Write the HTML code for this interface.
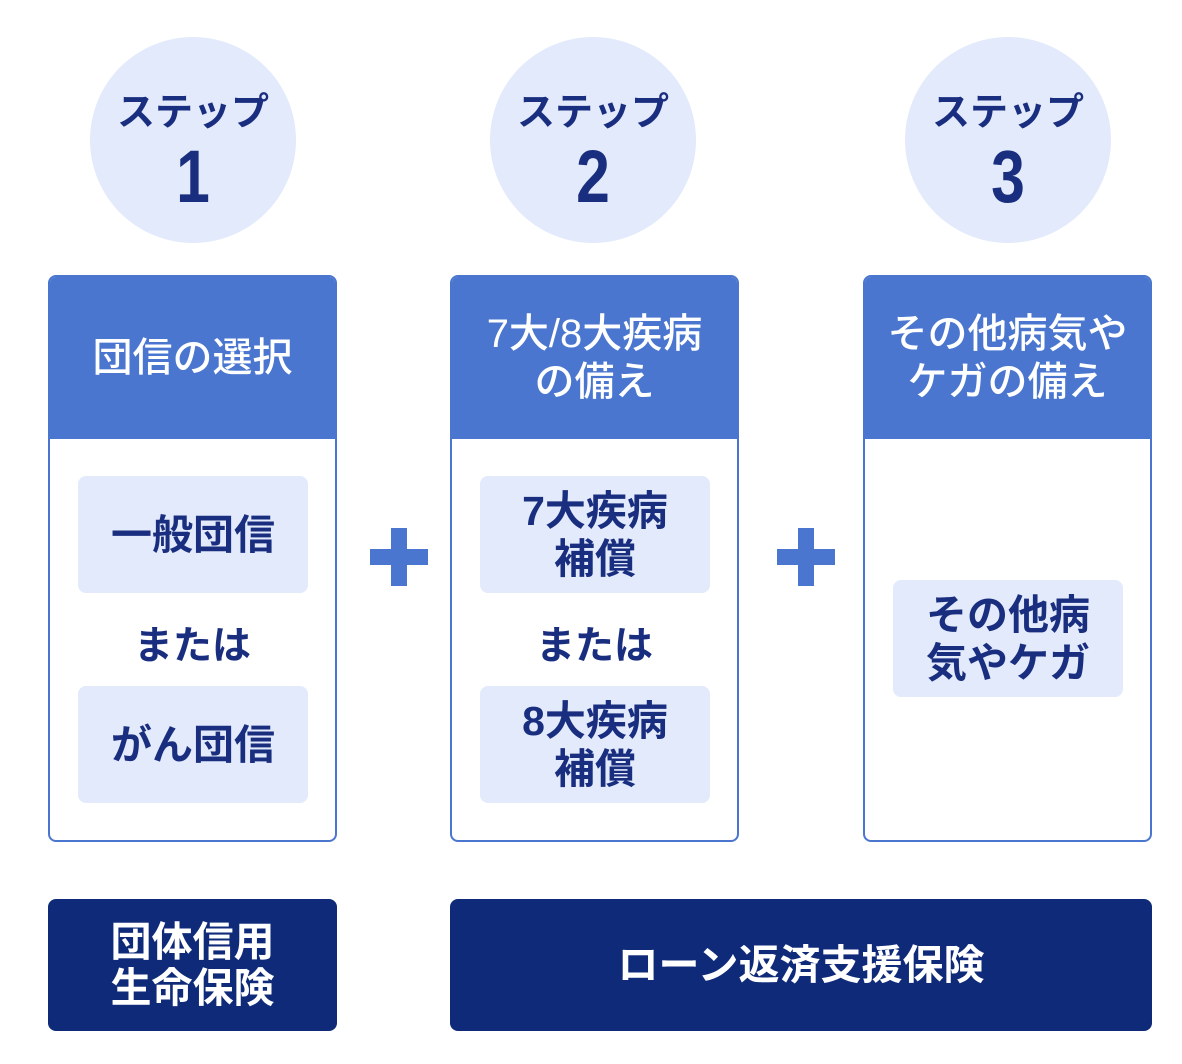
<!DOCTYPE html>
<html><head><meta charset="utf-8"><style>
*{margin:0;padding:0;box-sizing:border-box}
body{width:1182px;height:1064px;background:#fff;position:relative;overflow:hidden;font-family:"Liberation Sans","Noto Sans CJK JP",sans-serif;font-weight:bold}
.c{position:absolute;width:206px;height:206px;border-radius:50%;background:#e3eafb;color:#1a2e80;text-align:center}
.c .s{position:absolute;top:56px;width:100%;font-size:38px;line-height:40px}
.c .n{position:absolute;top:102px;width:100%;font-size:74px;line-height:76px;transform:scaleX(.82)}
.card{position:absolute;top:275px;width:289px;height:567px;border:2px solid #4a76d0;border-radius:8px;overflow:hidden;background:#fff}
.hd{position:absolute;left:0;top:0;right:0;height:162px;background:#4a76d0;color:#fff;font-size:40px;font-weight:500;line-height:48px;display:flex;align-items:center;justify-content:center;text-align:center}
.bx{position:absolute;left:28px;width:230px;height:117px;background:#e2eafb;border-radius:8px;color:#1a2e80;font-size:41px;line-height:48px;display:flex;align-items:center;justify-content:center;text-align:center}
.or{position:absolute;left:0;right:0;top:338px;text-align:center;color:#1a2e80;font-size:39px}
.pl{position:absolute;width:58px;height:58px}
.pl:before{content:"";position:absolute;left:21px;top:0;width:16px;height:58px;background:#4a76d0}
.pl:after{content:"";position:absolute;left:0;top:21px;width:58px;height:16px;background:#4a76d0}
.bt{position:absolute;top:899px;height:132px;background:#0f2a78;border-radius:8px;color:#fff;font-size:41px;line-height:46px;display:flex;align-items:center;justify-content:center;text-align:center}
</style></head><body>
<div class="c" style="left:90px;top:37px"><div class="s">ステップ</div><div class="n">1</div></div>
<div class="c" style="left:490px;top:37px"><div class="s">ステップ</div><div class="n">2</div></div>
<div class="c" style="left:905px;top:37px"><div class="s">ステップ</div><div class="n">3</div></div>

<div class="card" style="left:48px"><div class="hd">団信の選択</div>
<div class="bx" style="top:199px">一般団信</div><div class="or">または</div>
<div class="bx" style="top:409px">がん団信</div></div>

<div class="card" style="left:450px"><div class="hd">7大/8大疾病<br>の備え</div>
<div class="bx" style="top:199px">7大疾病<br>補償</div><div class="or">または</div>
<div class="bx" style="top:409px">8大疾病<br>補償</div></div>

<div class="card" style="left:863px"><div class="hd">その他病気や<br>ケガの備え</div>
<div class="bx" style="top:303px">その他病<br>気やケガ</div></div>

<div class="pl" style="left:370px;top:528px"></div>
<div class="pl" style="left:777px;top:528px"></div>

<div class="bt" style="left:48px;width:289px">団体信用<br>生命保険</div>
<div class="bt" style="left:450px;width:702px">ローン返済支援保険</div>
</body></html>
